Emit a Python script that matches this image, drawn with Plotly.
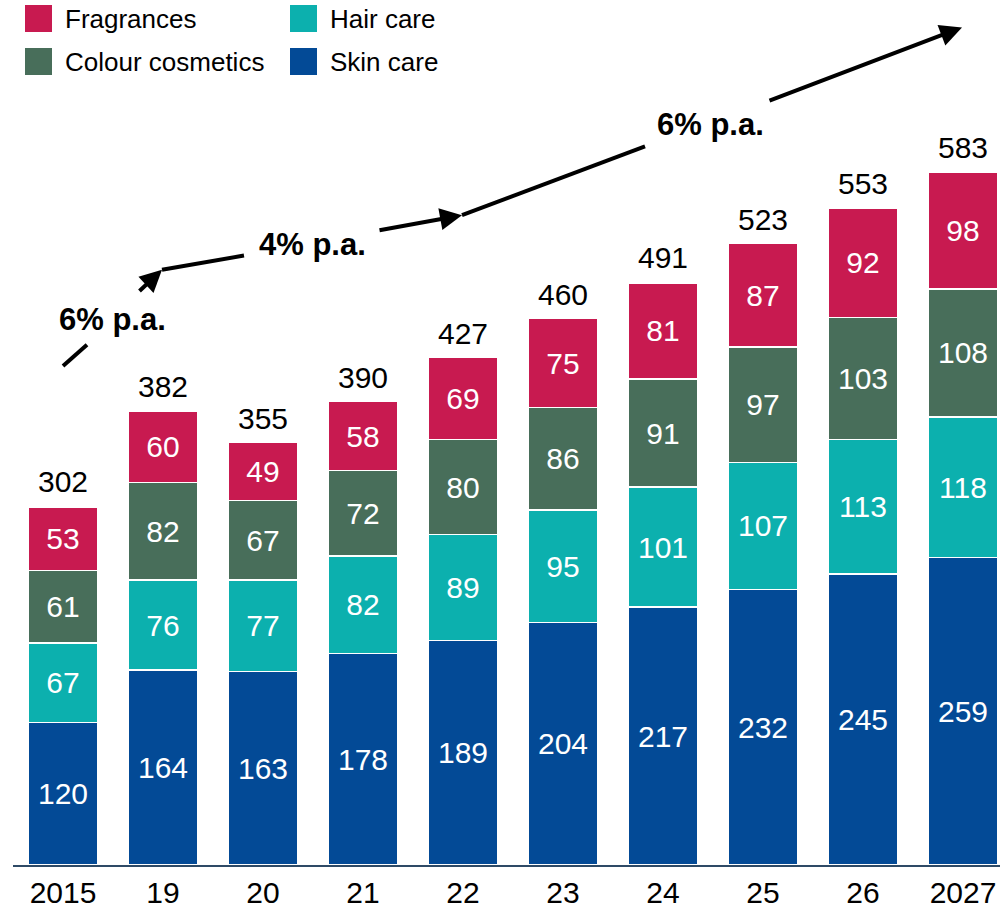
import plotly.graph_objects as go

years = ["2015", "19", "20", "21", "22", "23", "24", "25", "26", "2027"]
skin_care = [120, 164, 163, 178, 189, 204, 217, 232, 245, 259]
hair_care = [67, 76, 77, 82, 89, 95, 101, 107, 113, 118]
colour_cosmetics = [61, 82, 67, 72, 80, 86, 91, 97, 103, 108]
fragrances = [53, 60, 49, 58, 69, 75, 81, 87, 92, 98]
totals = [302, 382, 355, 390, 427, 460, 491, 523, 553, 583]
growth_labels = ["6% p.a.", "4% p.a.", "6% p.a."]

FONT = "Liberation Sans, Arial, sans-serif"
colors = {
    "Skin care": "#034A96",
    "Hair care": "#0CB0AE",
    "Colour cosmetics": "#486E5A",
    "Fragrances": "#C81A50",
}

xs = list(range(len(years)))
fig = go.Figure()
for name, vals in [("Skin care", skin_care), ("Hair care", hair_care),
                   ("Colour cosmetics", colour_cosmetics), ("Fragrances", fragrances)]:
    fig.add_trace(go.Bar(
        x=xs, y=vals, name=name, width=0.7,
        marker=dict(color=colors[name], line=dict(color="white", width=1.5)),
        text=[str(v) for v in vals], textposition="inside", insidetextanchor="middle",
        textangle=0, constraintext="none",
        textfont=dict(family=FONT, size=30, color="white"),
        showlegend=False, hoverinfo="skip",
    ))

W, H = 1000, 914
L, R, T, B = 13, 0, 0, 49
PW, PH = W - L - R, H - T - B
YMAX = PH / 1.188


def px(x):
    return (x - L) / PW


def py(y):
    return (H - B - y) / PH


shapes = []
annotations = []

# totals above bars
for x, t in zip(xs, totals):
    annotations.append(dict(xref="x", yref="y", x=x, y=t, text=str(t), showarrow=False,
                            xanchor="center", yanchor="bottom", yshift=6,
                            font=dict(family=FONT, size=30, color="black")))

# custom legend
legend_items = [("Fragrances", 25, 5), ("Colour cosmetics", 25, 48),
                ("Hair care", 290, 5), ("Skin care", 290, 48)]
for name, lx, ly in legend_items:
    shapes.append(dict(type="rect", xref="paper", yref="paper",
                       x0=px(lx), x1=px(lx + 27), y0=py(ly + 27), y1=py(ly),
                       fillcolor=colors[name], line=dict(width=0)))
    annotations.append(dict(xref="paper", yref="paper", x=px(lx + 38), y=py(ly + 14),
                            text=name, showarrow=False, xanchor="left", yanchor="middle",
                            font=dict(family=FONT, size=26, color="black")))


# growth arrows (data coordinates: category index, value)
def seg(x0, y0, x1, y1):
    shapes.append(dict(type="line", xref="x", yref="y", x0=x0, y0=y0, x1=x1, y1=y1,
                       line=dict(color="black", width=4)))


def arrow(x0, y0, x1, y1):
    annotations.append(dict(xref="x", yref="y", axref="x", ayref="y",
                            x=x1, y=y1, ax=x0, ay=y0, text="", showarrow=True,
                            arrowhead=2, arrowsize=1.1, arrowwidth=4, arrowcolor="black"))


seg(0.0, 420, 0.24, 438)
arrow(0.75, 482, 0.99, 501)
seg(0.99, 501, 1.81, 513)
arrow(3.15, 534, 3.99, 547)
seg(3.99, 547, 5.82, 605)
arrow(7.05, 643, 8.99, 705)

label_pos = [(0.49, 459), (2.49, 522), (6.47, 623)]
for (lx, ly), txt in zip(label_pos, growth_labels):
    annotations.append(dict(xref="x", yref="y", x=lx, y=ly, text=f"<b>{txt}</b>",
                            showarrow=False, xanchor="center", yanchor="middle",
                            font=dict(family=FONT, size=31, color="black")))

fig.update_layout(
    width=W, height=H, margin=dict(l=L, r=R, t=T, b=B),
    barmode="stack", bargap=0.3,
    plot_bgcolor="white", paper_bgcolor="white",
    shapes=shapes, annotations=annotations,
    xaxis=dict(range=[-0.5, 9.37], tickvals=xs, ticktext=years, showgrid=False,
               zeroline=False, showline=True, linecolor="#2E4A66", linewidth=2,
               ticks="", tickfont=dict(family=FONT, size=30, color="black")),
    yaxis=dict(range=[0, YMAX], visible=False, showgrid=False, zeroline=False),
)

fig.write_html("out.html", config={"displayModeBar": False},
               post_script="document.body.style.margin='0';document.body.style.overflow='hidden';")
